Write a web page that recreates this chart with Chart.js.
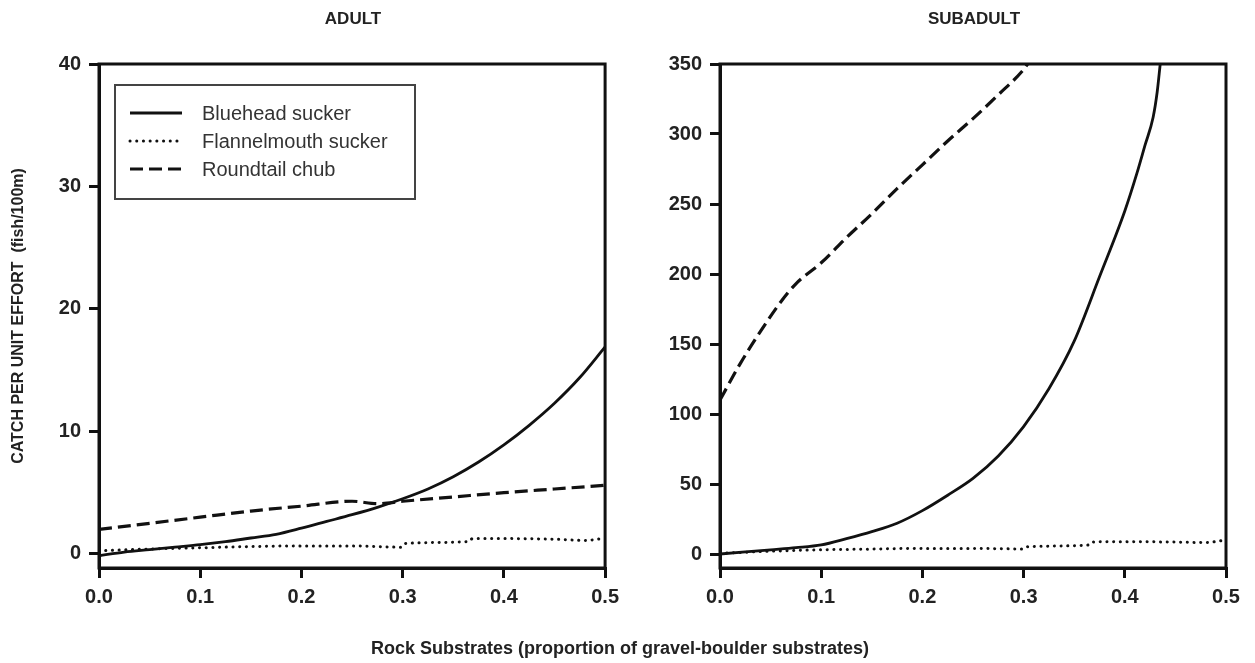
<!DOCTYPE html>
<html>
<head>
<meta charset="utf-8">
<script src="https://cdn.jsdelivr.net/npm/chart.js@4/dist/chart.umd.min.js"></script>
<style>
  html, body { margin: 0; padding: 0; background: #fff; }
  #wrap { position: relative; width: 1255px; height: 663px; overflow: hidden;
          font-family: "Liberation Sans", Arial, sans-serif; color: #222; }
  canvas { position: absolute; top: 0; }
  .ttl { position: absolute; font-weight: bold; white-space: nowrap;
         transform: translate(-50%, -50%); color: #222; }
</style>
</head>
<body>
<div id="wrap">
  <canvas id="adult" width="626" height="663" style="left:0"></canvas>
  <canvas id="subadult" width="635" height="663" style="left:620px"></canvas>
  <div class="ttl" style="left:353px; top:19px; font-size:17px;">ADULT</div>
  <div class="ttl" style="left:974px; top:19px; font-size:17px;">SUBADULT</div>
  <div class="ttl" style="left:620px; top:648px; font-size:18px;">Rock Substrates (proportion of gravel-boulder substrates)</div>
</div>
<script>
// ---- series names and tick values ----
const seriesNames = ['Bluehead sucker', 'Flannelmouth sucker', 'Roundtail chub'];
const xTicks = [0, 0.1, 0.2, 0.3, 0.4, 0.5];
const adultYTicks = [0, 10, 20, 30, 40];
const subadultYTicks = [0, 50, 100, 150, 200, 250, 300, 350];

// ---- ADULT: catch per unit effort vs. proportion of rock substrate ----
const adultBlueheadX = [0, 0.025, 0.05, 0.075, 0.1, 0.125, 0.15, 0.175, 0.2, 0.225, 0.25, 0.275, 0.3, 0.325, 0.35, 0.375, 0.4, 0.425, 0.45, 0.475, 0.5];
const adultBlueheadY = [-0.15, 0.15, 0.35, 0.55, 0.75, 1.0, 1.3, 1.6, 2.1, 2.65, 3.2, 3.8, 4.5, 5.3, 6.3, 7.5, 8.9, 10.5, 12.3, 14.4, 16.9];

const adultFlannelX = [0, 0.05, 0.1, 0.15, 0.2, 0.25, 0.298, 0.302, 0.365, 0.369, 0.4, 0.45, 0.48, 0.5];
const adultFlannelY = [0.25, 0.4, 0.5, 0.6, 0.65, 0.65, 0.55, 0.85, 1.0, 1.25, 1.25, 1.2, 1.1, 1.3];

const adultChubX = [0, 0.05, 0.1, 0.15, 0.2, 0.25, 0.275, 0.3, 0.35, 0.4, 0.45, 0.5];
const adultChubY = [2.0, 2.5, 3.0, 3.5, 3.9, 4.3, 4.1, 4.3, 4.65, 5.0, 5.3, 5.6];

// ---- SUBADULT ----
const subBlueheadX = [0, 0.025, 0.05, 0.075, 0.1, 0.125, 0.15, 0.175, 0.2, 0.225, 0.25, 0.275, 0.3, 0.325, 0.35, 0.375, 0.4, 0.412, 0.42, 0.428, 0.432, 0.435];
const subBlueheadY = [0, 1.5, 3, 4.5, 6.5, 11, 16, 22, 31, 42, 54, 70, 91, 118, 152, 198, 245, 272, 292, 312, 330, 350];

const subFlannelX = [0, 0.05, 0.1, 0.15, 0.2, 0.25, 0.298, 0.302, 0.364, 0.368, 0.4, 0.45, 0.48, 0.5];
const subFlannelY = [0.5, 2, 3, 3.5, 4, 4, 3.6, 5.2, 6.4, 8.6, 8.8, 8.5, 8.2, 10];

const subChubX = [0, 0.02, 0.04, 0.06, 0.075, 0.1, 0.125, 0.15, 0.175, 0.2, 0.225, 0.25, 0.275, 0.3, 0.304];
const subChubY = [110, 136, 159, 180, 193, 208, 226, 243, 261, 278, 295, 311, 328, 346, 350];

// ---- drawing ----
const INK = '#111';
const FONT = '"Liberation Sans", Arial, sans-serif';
Chart.defaults.font.family = FONT;
Chart.defaults.color = '#222';

const lineStyles = [
  { borderWidth: 2.8, borderDash: [], borderCapStyle: 'butt' },
  { borderWidth: 3, borderDash: [0.1, 6.6], borderCapStyle: 'round' },
  { borderWidth: 3.2, borderDash: [13, 6], borderCapStyle: 'butt' }
];

const pairs = (xs, ys) => xs.map((x, i) => ({ x: x, y: ys[i] }));

// closes the plot box with a top and right edge
const framePlugin = {
  id: 'frame',
  afterDatasetsDraw(chart) {
    const a = chart.chartArea, ctx = chart.ctx;
    ctx.save();
    ctx.strokeStyle = INK;
    ctx.lineWidth = 3;
    ctx.strokeRect(a.left, a.top, a.right - a.left, a.bottom - a.top);
    ctx.restore();
  }
};

// boxed key with a line sample per species
const keyPlugin = {
  id: 'speciesKey',
  afterDraw(chart, args, opts) {
    if (!opts.display) return;
    const ctx = chart.ctx;
    ctx.save();
    ctx.strokeStyle = '#444';
    ctx.lineWidth = 2;
    ctx.strokeRect(opts.x, opts.y, opts.w, opts.h);
    chart.data.datasets.forEach((ds, i) => {
      const ry = opts.y + opts.firstRow + i * opts.rowGap;
      ctx.beginPath();
      ctx.setLineDash(ds.borderDash || []);
      ctx.lineCap = ds.borderCapStyle || 'butt';
      ctx.lineWidth = ds.borderWidth;
      ctx.strokeStyle = INK;
      ctx.moveTo(opts.x + 15, ry);
      ctx.lineTo(opts.x + 67, ry);
      ctx.stroke();
      ctx.setLineDash([]);
      ctx.fillStyle = '#333';
      ctx.font = '20px ' + FONT;
      ctx.textBaseline = 'middle';
      ctx.textAlign = 'left';
      ctx.fillText(ds.label, opts.x + 87, ry + 1);
    });
    ctx.restore();
  }
};

function makeChart(id, series, yMin, yMax, yTicks, cfg) {
  return new Chart(document.getElementById(id), {
    type: 'line',
    data: {
      datasets: series.map((s, i) => Object.assign({
        label: seriesNames[i],
        data: pairs(s[0], s[1]),
        borderColor: INK,
        backgroundColor: INK,
        fill: false,
        pointRadius: 0,
        cubicInterpolationMode: 'monotone',
        borderJoinStyle: 'round'
      }, lineStyles[i]))
    },
    options: {
      responsive: false,
      animation: false,
      events: [],
      layout: { padding: { top: 64, right: cfg.padRight, left: 0, bottom: 0 } },
      plugins: {
        legend: { display: false },
        tooltip: { enabled: false },
        speciesKey: cfg.key || { display: false }
      },
      scales: {
        x: {
          type: 'linear',
          min: 0, max: 0.5,
          afterBuildTicks: s => { s.ticks = xTicks.map(v => ({ value: v })); },
          afterFit: s => { s.height = 95; },
          ticks: {
            callback: v => Number(v).toFixed(1),
            font: { size: 20, weight: 'bold' },
            color: '#222', padding: 7, maxRotation: 0, autoSkip: false
          },
          grid: { drawOnChartArea: false, tickLength: 10, lineWidth: 3, tickWidth: 3, color: INK },
          border: { display: true, width: 3, color: INK }
        },
        y: {
          type: 'linear',
          min: yMin, max: yMax,
          afterBuildTicks: s => { s.ticks = yTicks.map(v => ({ value: v })); },
          afterFit: s => { s.width = cfg.yWidth; },
          ticks: {
            font: { size: 20, weight: 'bold' },
            color: '#222', padding: 8, autoSkip: false
          },
          grid: { drawOnChartArea: false, tickLength: 10, lineWidth: 3, tickWidth: 3, color: INK },
          border: { display: true, width: 3, color: INK },
          title: cfg.yTitle ? {
            display: true,
            text: cfg.yTitle,
            font: { size: 16, weight: 'bold' },
            color: '#222',
            padding: { top: 9, bottom: 0 }
          } : { display: false }
        }
      }
    },
    plugins: [framePlugin, keyPlugin]
  });
}

makeChart('adult',
  [[adultBlueheadX, adultBlueheadY], [adultFlannelX, adultFlannelY], [adultChubX, adultChubY]],
  -1.15, 40, adultYTicks,
  {
    padRight: 15, yWidth: 99,
    yTitle: 'CATCH PER UNIT EFFORT  (fish/100m)',
    key: { display: true, x: 115, y: 85, w: 300, h: 114, firstRow: 28, rowGap: 28 }
  });

makeChart('subadult',
  [[subBlueheadX, subBlueheadY], [subFlannelX, subFlannelY], [subChubX, subChubY]],
  -10, 350, subadultYTicks,
  { padRight: 29, yWidth: 100 });
</script>
</body>
</html>
